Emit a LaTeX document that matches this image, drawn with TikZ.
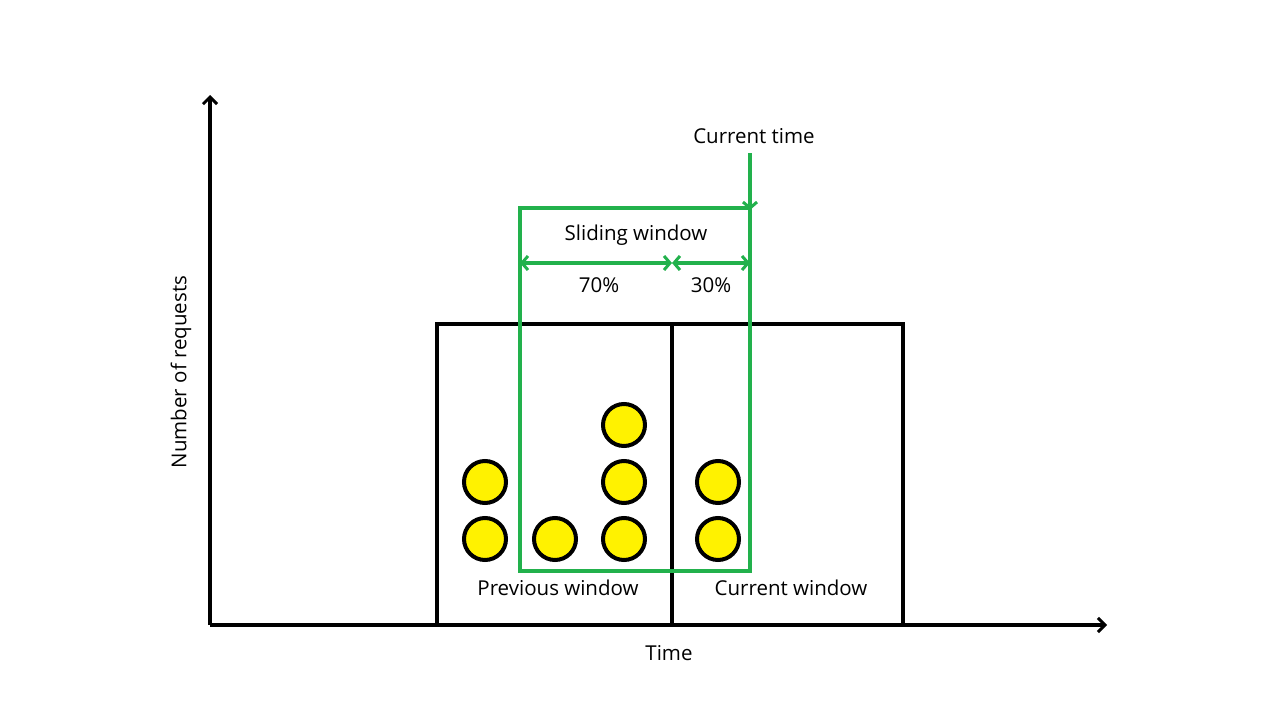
\documentclass[tikz,border=0pt]{standalone}
\usepackage{fontspec}
\setmainfont{Open Sans}
\usetikzlibrary{arrows.meta}
\definecolor{winGreen}{RGB}{34,177,76}
\definecolor{reqYellow}{RGB}{255,242,0}
\tikzset{
  axis/.style={line width=4pt, -{Straight Barb[length=7pt,width=14pt,line width=3pt]}},
  box/.style={draw, line width=4pt},
  req/.style={draw, circle, fill=reqYellow, line width=4pt, minimum size=42pt, inner sep=0pt},
  lbl/.style={font=\fontsize{20.5}{24}\selectfont},
  gdim/.style={winGreen, line width=4pt, {Straight Barb[length=6pt,width=14pt,line width=3pt]}-{Straight Barb[length=6pt,width=14pt,line width=3pt]}}
}
\begin{document}
\begin{tikzpicture}[x=1pt,y=-1pt]
        \useasboundingbox (0,0) rectangle (1280,720);
          % axes
        \coordinate (origin) at (210,625);
        \coordinate (ytip) at (210,95);
        \coordinate (xtip) at (1107,625);
        \draw[axis] (origin) -- (ytip);
        \draw[axis] (origin) -- (xtip);
        \node (xlabel) at (669,653) [lbl] {Time};
        \node (ylabel) at (181,372) [lbl, rotate=90] {Number of requests};

          % fixed windows
        \draw[box] (437,625) rectangle (672,324);
        \draw[box] (672,625) rectangle (903,324);
        \node (prev) at (558,588) [lbl] {Previous window};
        \node (curr) at (791,588) [lbl] {Current window};

          % requests
        \foreach \name/\x/\y in {r1/485/482, r2/485/539, r3/555/539, r4/624/425,
                                 r5/624/482, r6/624/539, r7/718/482, r8/718/539}
          \node (\name) at (\x,\y) [req] {};

          % sliding window
        \draw[winGreen, line width=4pt] (520,208) rectangle (750,571);
        \node (now) at (754,136) [lbl] {Current time};
        \coordinate (nowtop) at (750,153);
        \coordinate (nowbot) at (750,210);
        \draw[winGreen, line width=4pt, -{Straight Barb[length=6pt,width=14pt,line width=3pt]}] (nowtop) -- (nowbot);
        \node (slide) at (636,235) [lbl] {Sliding window};
        \coordinate (dleft) at (520,263);
        \coordinate (dmid) at (672,263);
        \coordinate (dright) at (750,263);
        \draw[gdim] (dleft) -- (dmid);
        \draw[gdim] (dmid) -- (dright);
        \node (p70) at (599,285) [lbl] {70\%};
        \node (p30) at (711,285) [lbl] {30\%};
        \end{tikzpicture}
\end{document}
